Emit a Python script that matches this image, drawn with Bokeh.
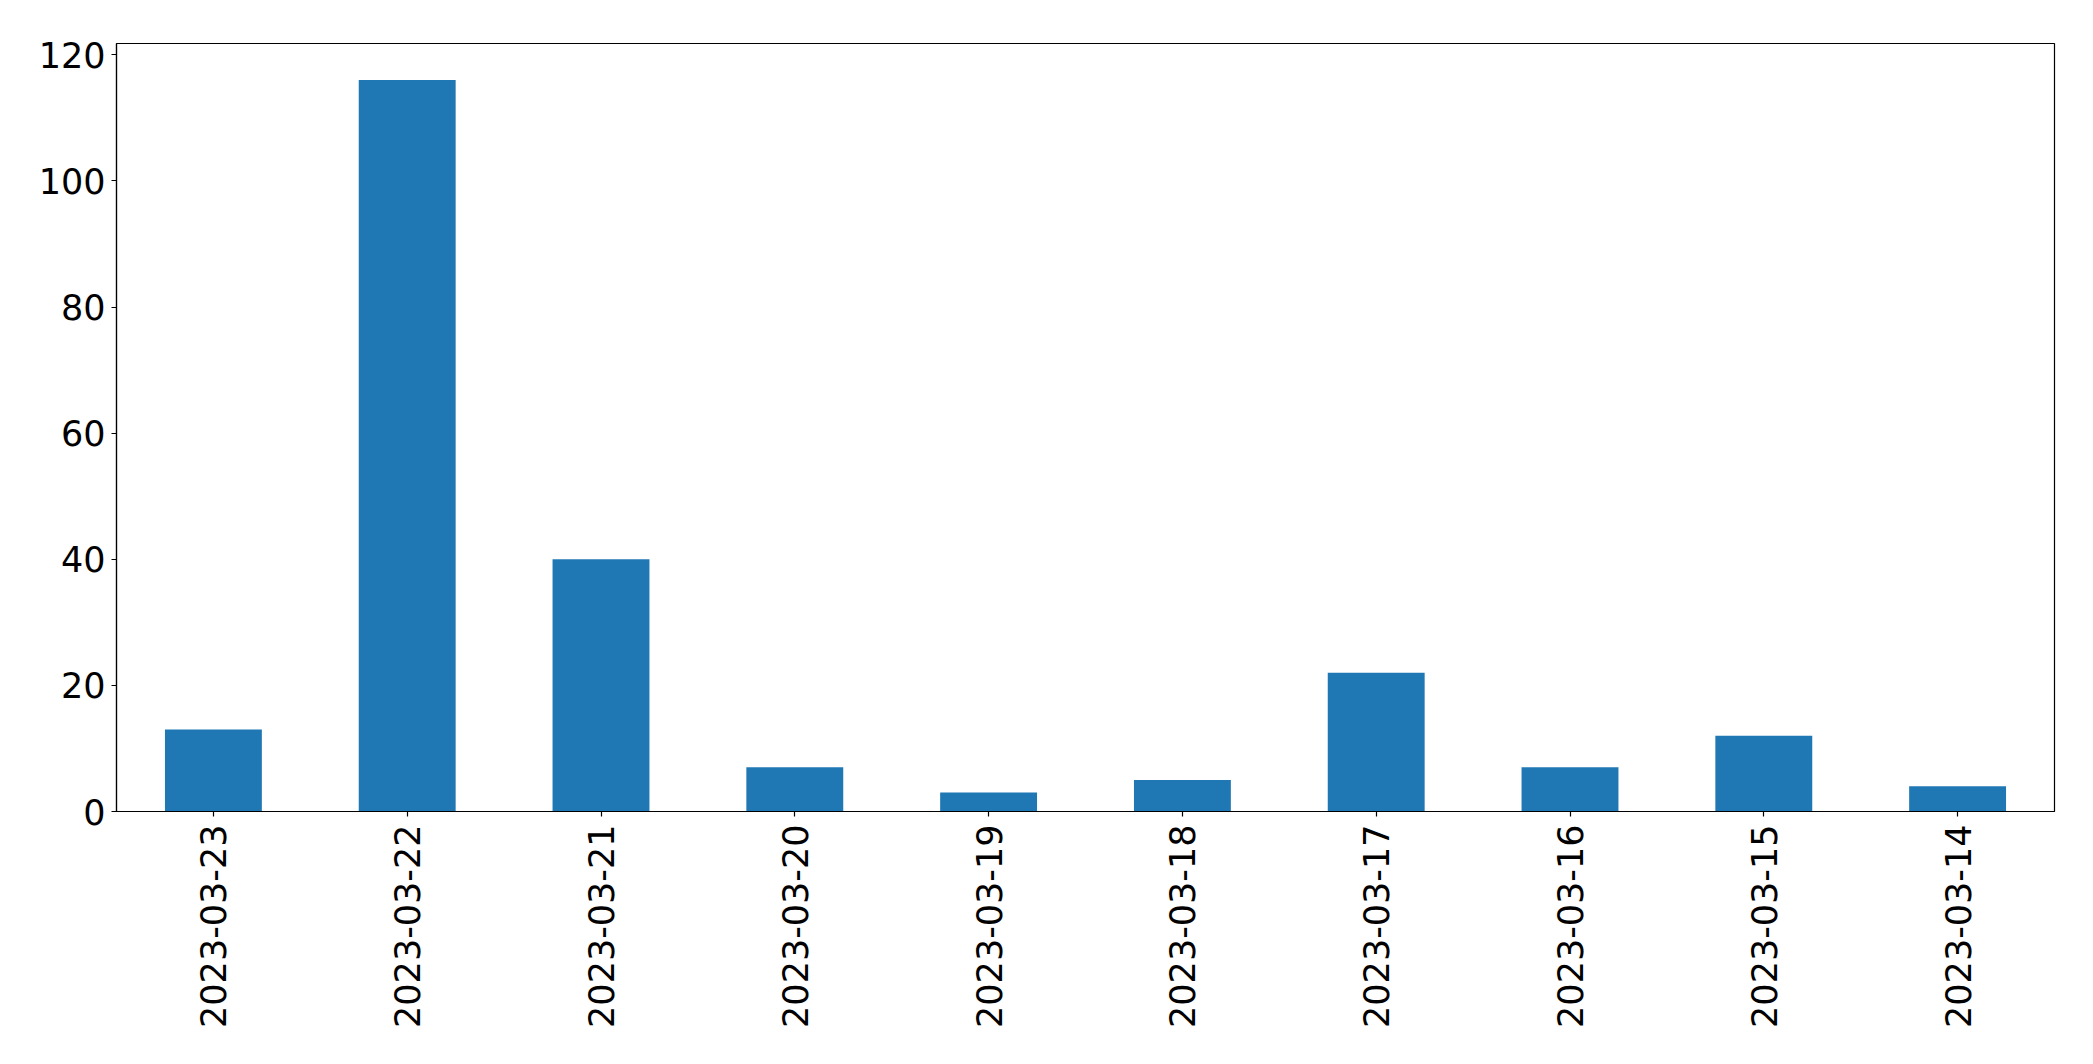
import math
from bokeh.plotting import figure
from bokeh.models import Range1d, FactorRange, FixedTicker, ColumnDataSource
from bokeh.embed import file_html
from bokeh.resources import INLINE

dates = ["2023-03-23", "2023-03-22", "2023-03-21", "2023-03-20", "2023-03-19",
         "2023-03-18", "2023-03-17", "2023-03-16", "2023-03-15", "2023-03-14"]
counts = [13, 116, 40, 7, 3, 5, 22, 7, 12, 4]
y_ticks = [0, 20, 40, 60, 80, 100, 120]

src = ColumnDataSource(dict(x=dates, y=counts))

p = figure(width=2085, height=1056, output_backend="svg", toolbar_location=None,
           x_range=FactorRange(*dates, range_padding=0), y_range=Range1d(0, 121.8),
           min_border_left=116, min_border_right=31, min_border_top=43, min_border_bottom=245)

p.vbar(x="x", top="y", width=0.5, source=src, fill_color="#1f77b4", line_color=None)

p.xgrid.visible = False
p.ygrid.visible = False
p.outline_line_color = "black"
p.outline_line_width = 1.2
p.outline_line_alpha = 1

for ax in (p.xaxis[0], p.yaxis[0]):
    ax.axis_line_color = "black"
    ax.axis_line_width = 1.2
    ax.major_tick_line_color = "black"
    ax.major_tick_line_width = 1.2
    ax.major_tick_out = 5
    ax.major_tick_in = 0
    ax.minor_tick_line_color = None
    ax.major_label_text_font = "DejaVu Sans"
    ax.major_label_text_font_size = "35px"
    ax.major_label_text_color = "black"

p.yaxis[0].ticker = FixedTicker(ticks=y_ticks)
p.yaxis[0].major_label_standoff = 6
p.xaxis[0].major_label_orientation = math.pi / 2
p.xaxis[0].major_label_standoff = 8

open("out.html", "w").write(file_html(p, INLINE))
